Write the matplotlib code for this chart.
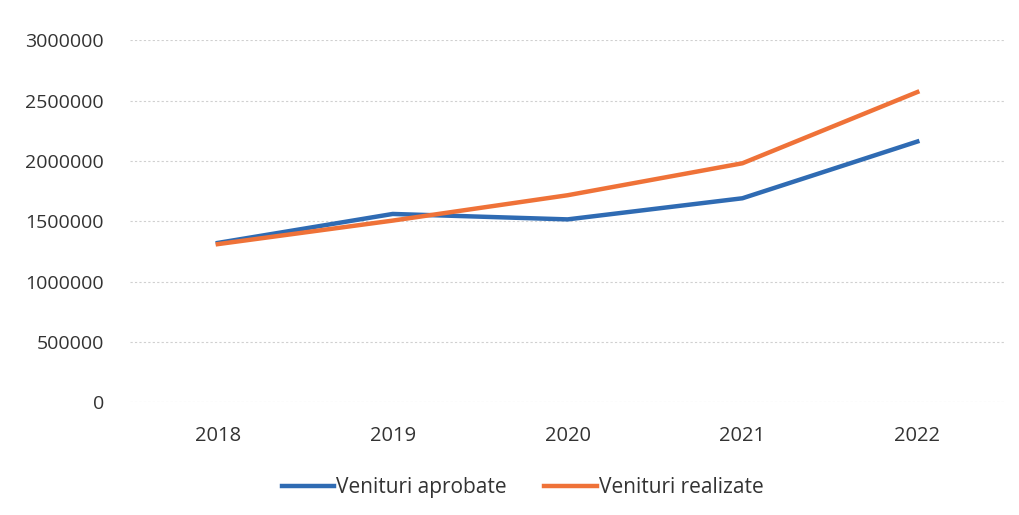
import matplotlib.pyplot as plt

years = ["2018", "2019", "2020", "2021", "2022"]
venituri_aprobate = [1320000, 1560000, 1515000, 1690000, 2160000]
venituri_realizate = [1310000, 1505000, 1715000, 1980000, 2570000]

plt.rcParams['font.family'] = ['Open Sans', 'DejaVu Sans']

fig = plt.figure(figsize=(10.19, 5.15), dpi=100)
ax = fig.add_axes([0.128, 0.219, 0.858, 0.703])

x = range(len(years))
ax.plot(x, venituri_aprobate, color='#2f6bb3', lw=3.2, label='Venituri aprobate',
        solid_joinstyle='round')
ax.plot(x, venituri_realizate, color='#ef7238', lw=3.2, label='Venituri realizate',
        solid_joinstyle='round')

ax.set_xlim(-0.5, len(years) - 0.5)
ax.set_ylim(0, 3000000)
ax.set_yticks(range(0, 3000001, 500000))
ax.set_yticklabels([str(v) for v in range(0, 3000001, 500000)])
ax.set_xticks(list(x))
ax.set_xticklabels(years)
ax.tick_params(axis='y', length=0, labelsize=14, colors='#333333', pad=19)
ax.tick_params(axis='x', length=0, labelsize=14.5, colors='#333333', pad=17)

ax.grid(axis='y', color='#d0d0d0', lw=0.8, ls=(0, (2, 2)))
ax.set_axisbelow(True)
for s in ax.spines.values():
    s.set_visible(False)

fig.legend(loc='center', bbox_to_anchor=(0.513, 0.053), ncol=2, frameon=False,
           fontsize=15, handlelength=2.5, handletextpad=0.1, columnspacing=1.8,
           labelcolor='#333333')

fig.savefig('out.png', dpi=100)
